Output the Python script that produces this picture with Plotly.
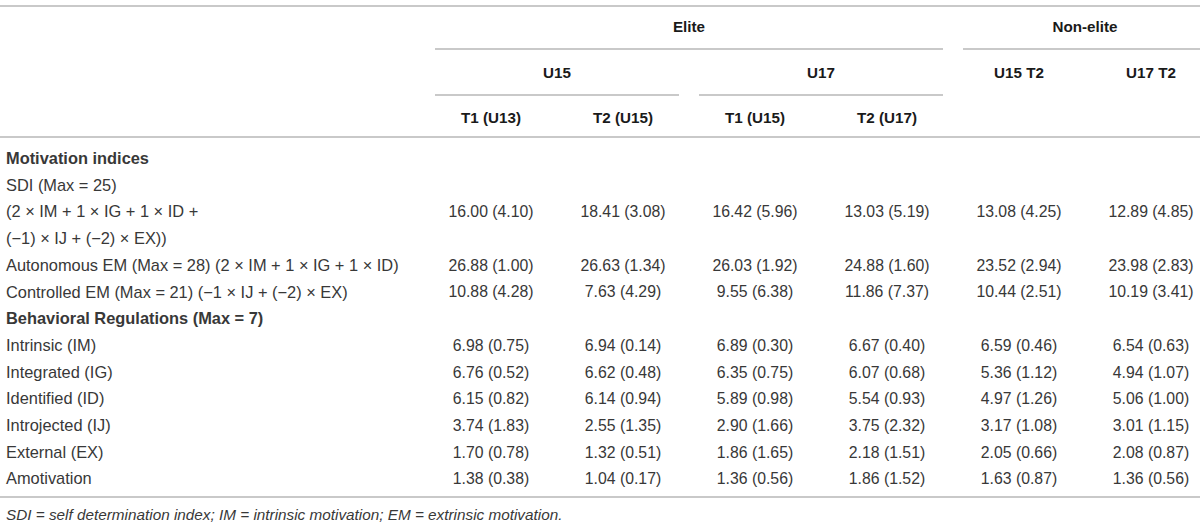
import plotly.graph_objects as go

# --- table content ---
groups = ["Elite", "Non-elite"]
subgroups = ["U15", "U17", "U15 T2", "U17 T2"]
columns = ["T1 (U13)", "T2 (U15)", "T1 (U15)", "T2 (U17)"]

row_labels = [
    "<b>Motivation indices</b>",
    "SDI (Max = 25)",
    "(2 × IM + 1 × IG + 1 × ID +",
    "(−1) × IJ + (−2) × EX))",
    "Autonomous EM (Max = 28) (2 × IM + 1 × IG + 1 × ID)",
    "Controlled EM (Max = 21) (−1 × IJ + (−2) × EX)",
    "<b>Behavioral Regulations (Max = 7)</b>",
    "Intrinsic (IM)",
    "Integrated (IG)",
    "Identified (ID)",
    "Introjected (IJ)",
    "External (EX)",
    "Amotivation",
]
# row index (in row_labels) where each measure's values sit
value_rows = [2, 4, 5, 7, 8, 9, 10, 11, 12]

elite_u15_t1_mean = [16.00, 26.88, 10.88, 6.98, 6.76, 6.15, 3.74, 1.70, 1.38]
elite_u15_t1_sd = [4.10, 1.00, 4.28, 0.75, 0.52, 0.82, 1.83, 0.78, 0.38]
elite_u15_t2_mean = [18.41, 26.63, 7.63, 6.94, 6.62, 6.14, 2.55, 1.32, 1.04]
elite_u15_t2_sd = [3.08, 1.34, 4.29, 0.14, 0.48, 0.94, 1.35, 0.51, 0.17]
elite_u17_t1_mean = [16.42, 26.03, 9.55, 6.89, 6.35, 5.89, 2.90, 1.86, 1.36]
elite_u17_t1_sd = [5.96, 1.92, 6.38, 0.30, 0.75, 0.98, 1.66, 1.65, 0.56]
elite_u17_t2_mean = [13.03, 24.88, 11.86, 6.67, 6.07, 5.54, 3.75, 2.18, 1.86]
elite_u17_t2_sd = [5.19, 1.60, 7.37, 0.40, 0.68, 0.93, 2.32, 1.51, 1.52]
nonelite_u15_mean = [13.08, 23.52, 10.44, 6.59, 5.36, 4.97, 3.17, 2.05, 1.63]
nonelite_u15_sd = [4.25, 2.94, 2.51, 0.46, 1.12, 1.26, 1.08, 0.66, 0.87]
nonelite_u17_mean = [12.89, 23.98, 10.19, 6.54, 4.94, 5.06, 3.01, 2.08, 1.36]
nonelite_u17_sd = [4.85, 2.83, 3.41, 0.63, 1.07, 1.00, 1.15, 0.87, 0.56]

footnote = "<i>SDI = self determination index; IM = intrinsic motivation; EM = extrinsic motivation.</i>"

# --- layout constants (pixel space) ---
W, H = 1200, 528
col_x = [491, 623, 755, 887, 1019, 1151]
row_y0, row_step = 160, 26.7
label_x = 6
FONT = "Liberation Sans, Arial, sans-serif"
TXT = "#383838"
HDR = "#1a1a1a"
LINE = "#c9c9c9"
LABEL_SIZE = 16.4
BODY_SIZE = 15.8
HDR_SIZE = 15.2

data_cols = [
    (elite_u15_t1_mean, elite_u15_t1_sd),
    (elite_u15_t2_mean, elite_u15_t2_sd),
    (elite_u17_t1_mean, elite_u17_t1_sd),
    (elite_u17_t2_mean, elite_u17_t2_sd),
    (nonelite_u15_mean, nonelite_u15_sd),
    (nonelite_u17_mean, nonelite_u17_sd),
]

fig = go.Figure()

# row labels
row_ys = [row_y0 + i * row_step for i in range(len(row_labels))]
fig.add_trace(go.Scatter(
    x=[label_x] * len(row_labels), y=row_ys, text=row_labels,
    mode="text", textposition="middle right", cliponaxis=False,
    textfont=dict(family=FONT, size=LABEL_SIZE, color=TXT), hoverinfo="skip"))

# values
for cx, (means, sds) in zip(col_x, data_cols):
    fig.add_trace(go.Scatter(
        x=[cx] * len(means), y=[row_ys[r] for r in value_rows],
        text=[f"{m:.2f} ({s:.2f})" for m, s in zip(means, sds)],
        mode="text", textposition="middle center", cliponaxis=False,
        textfont=dict(family=FONT, size=BODY_SIZE, color=TXT), hoverinfo="skip"))

# header text
hdr_x = [(col_x[0] + col_x[3]) / 2, (col_x[4] + col_x[5]) / 2,
         (col_x[0] + col_x[1]) / 2, (col_x[2] + col_x[3]) / 2, col_x[4], col_x[5]] + col_x[:4]
hdr_y = [28, 28, 74, 74, 74, 74, 119, 119, 119, 119]
hdr_text = groups + subgroups + columns
fig.add_trace(go.Scatter(
    x=hdr_x, y=hdr_y, text=[f"<b>{t}</b>" for t in hdr_text],
    mode="text", textposition="middle center", cliponaxis=False,
    textfont=dict(family=FONT, size=HDR_SIZE, color=HDR), hoverinfo="skip"))

# footnote
fig.add_trace(go.Scatter(
    x=[label_x], y=[516], text=[footnote], mode="text", textposition="middle right",
    cliponaxis=False,
    textfont=dict(family=FONT, size=15.3, color=TXT), hoverinfo="skip"))

# rules
half = (col_x[1] - col_x[0]) / 2
rules = [
    (0, W, 6), (0, W, 137), (0, W, 497),
    (col_x[0] - half + 10, col_x[3] + half - 10, 49),
    (col_x[4] - half + 10, W, 49),
    (col_x[0] - half + 10, col_x[1] + half - 10, 95),
    (col_x[2] - half + 10, col_x[3] + half - 10, 95),
]
for x0, x1, y in rules:
    fig.add_shape(type="line", x0=x0, x1=x1, y0=y, y1=y, xref="x", yref="y",
                  line=dict(color=LINE, width=2))

fig.update_layout(
    width=W, height=H,
    margin=dict(l=0, r=0, t=0, b=0),
    plot_bgcolor="white", paper_bgcolor="white",
    showlegend=False,
    xaxis=dict(range=[0, W], visible=False, fixedrange=True),
    yaxis=dict(range=[H, 0], visible=False, fixedrange=True),
)

fig.write_html("out.html", config={"displayModeBar": False},
               post_script="document.body.style.margin='0';")
